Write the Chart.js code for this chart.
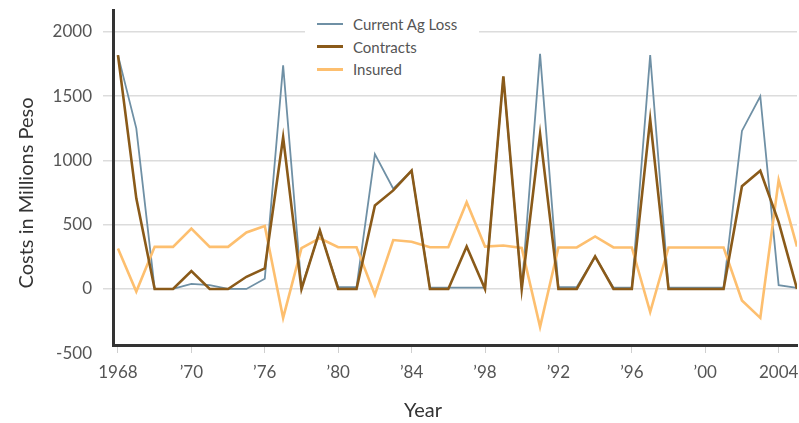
<!DOCTYPE html>
<html>
<head>
<meta charset="utf-8">
<title>Costs in Millions Peso</title>
<script src="https://cdn.jsdelivr.net/npm/chart.js@4/dist/chart.umd.min.js"></script>
<style>
  html, body { margin: 0; padding: 0; background: #fff; }
  #wrap { position: relative; width: 799px; height: 423px; }
  #legend {
    position: absolute; left: 305px; top: 12px; width: 174px; height: 68px;
    background: #fff; font-family: Lato, "Open Sans", sans-serif; font-size: 15px; color: #555;
  }
  .lg-item { position: absolute; left: 12px; height: 20px; display: flex; align-items: center; }
  .lg-swatch { width: 26px; margin-right: 10px; }
</style>
</head>
<body>
<div id="wrap">
  <canvas id="chart" width="799" height="423"></canvas>
  <div id="legend"></div>
</div>
<script>
// ---- data ----
const years = [];
for (let y = 1968; y <= 2005; y++) years.push(y);

const agLoss = [1820, 1250, 0, 0, 40, 30, 0, 0, 80, 1740, 10, 450, 15, 15, 1050, 780, 920, 10, 10, 10,
                10, 1650, 0, 1830, 15, 15, 250, 10, 10, 1820, 10, 10, 10, 10, 1230, 1500, 30, 8];
const contracts = [1820, 705, 0, 0, 140, 0, 0, 95, 160, 1180, 0, 457, 0, 0, 650, 767, 922, 0, 0, 330,
                   0, 1655, 0, 1205, 0, 0, 253, 0, 0, 1320, 0, 0, 0, 0, 800, 920, 520, 0];
const insured = [315, -20, 328, 328, 470, 328, 328, 440, 490, -225, 318, 395, 325, 325, -47, 381, 368, 325, 325, 675,
                 330, 338, 320, -295, 323, 323, 409, 323, 323, -180, 323, 323, 323, 323, -90, -225, 848, 330];

const seriesNames = ['Current Ag Loss', 'Contracts', 'Insured'];
const seriesColors = ['#6f90a5', '#8a5a19', '#fdbf6f'];
const seriesWidths = [1.8, 2.6, 2.6];

const xTickYears = [1968, 1972, 1976, 1980, 1984, 1988, 1992, 1996, 2000, 2004];
const xTickLabels = ['1968', '\u201970', '\u201976', '\u201980', '\u201984', '\u201998', '\u201992', '\u201996', '\u201900', '2004'];
const yTicks = [-500, 0, 500, 1000, 1500, 2000];

const X_TITLE = 'Year';
const Y_TITLE = 'Costs in Millions Peso';
const FONT = 'Lato, "Open Sans", sans-serif';

// ---- legend (html, sits on top of the plot like the original) ----
const legendEl = document.getElementById('legend');
seriesNames.forEach((name, i) => {
  const row = document.createElement('div');
  row.className = 'lg-item';
  row.style.top = (2 + i * 22.5) + 'px';
  row.innerHTML = `<div class="lg-swatch" style="border-top:${Math.round(seriesWidths[i])}px solid ${seriesColors[i]}"></div><span>${name}</span>`;
  legendEl.appendChild(row);
});

// axis titles are drawn where the original puts them
const axisTitles = {
  id: 'axisTitles',
  afterDraw(chart) {
    const ctx = chart.ctx;
    ctx.save();
    ctx.fillStyle = '#333';
    ctx.font = '20px ' + FONT;
    ctx.textAlign = 'center';
    ctx.textBaseline = 'middle';
    ctx.fillText(X_TITLE, 423, 411);
    ctx.translate(27, 193);
    ctx.rotate(-Math.PI / 2);
    ctx.fillText(Y_TITLE, 0, 0);
    ctx.restore();
  }
};

const allSeries = [agLoss, contracts, insured];
const drawOrder = [3, 1, 2]; // blue underneath, brown on top

new Chart(document.getElementById('chart'), {
  type: 'line',
  data: {
    datasets: allSeries.map((vals, i) => ({
      label: seriesNames[i],
      data: vals.map((v, j) => ({ x: years[j], y: v })),
      borderColor: seriesColors[i],
      borderWidth: seriesWidths[i],
      pointRadius: 0,
      tension: 0,
      fill: false,
      order: drawOrder[i]
    }))
  },
  options: {
    responsive: false,
    animation: false,
    layout: { padding: { top: 10, right: 2, left: 0, bottom: 0 } },
    plugins: { legend: { display: false }, tooltip: { enabled: false } },
    scales: {
      x: {
        type: 'linear',
        min: 1967.73,
        max: 2005,
        afterBuildTicks: s => { s.ticks = xTickYears.map(v => ({ value: v })); },
        // fixed band under the plot, no extra room asked for the end labels
        afterFit: s => { s.height = 78; s.paddingLeft = 0; s.paddingRight = 0; },
        ticks: {
          autoSkip: false, maxRotation: 0, padding: 9,
          color: '#555', font: { family: FONT, size: 17 },
          callback: (v, i) => xTickLabels[i]
        },
        grid: { drawOnChartArea: false, drawTicks: true, tickLength: 8, color: '#cfcfcf' },
        border: { color: '#333', width: 3 }
      },
      y: {
        min: -436,
        max: 2171,
        afterBuildTicks: s => { s.ticks = yTicks.map(v => ({ value: v })); },
        afterFit: s => { s.width = 113; s.paddingTop = 0; s.paddingBottom = 0; },
        ticks: {
          padding: 11, color: '#555', font: { family: FONT, size: 17 },
          callback: v => String(v)
        },
        grid: {
          color: c => (c.tick && c.tick.value < -436) ? 'rgba(0,0,0,0)' : '#dcdcdc',
          lineWidth: 1.5,
          tickLength: 10
        },
        border: { color: '#333', width: 3 }
      }
    }
  },
  plugins: [axisTitles]
});
</script>
</body>
</html>
